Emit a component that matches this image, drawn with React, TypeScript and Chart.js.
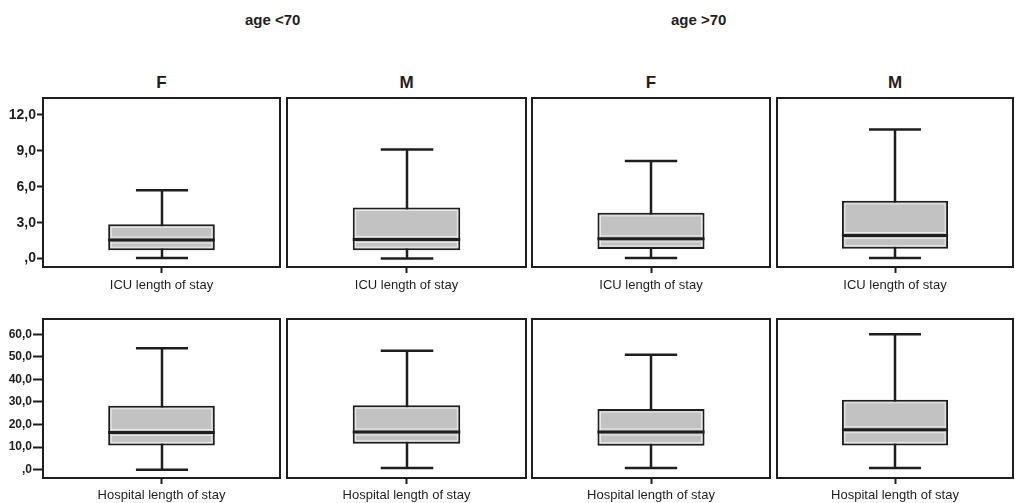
import React, { useEffect, useRef } from "react";
import { Chart, registerables } from "chart.js";

Chart.register(...registerables);

// ---- data ----
const ageGroups = ["age <70", "age >70"];
const sexes = ["F", "M", "F", "M"];
const rowLabels = ["ICU length of stay", "Hospital length of stay"];

const icuMin = [0.05, 0.0, 0.05, 0.05];
const icuQ1 = [0.7, 0.7, 0.8, 0.82];
const icuMedian = [1.55, 1.6, 1.65, 1.93];
const icuQ3 = [2.87, 4.27, 3.82, 4.82];
const icuMax = [5.7, 9.1, 8.15, 10.77];

const hospMin = [0.0, 0.75, 0.75, 0.75];
const hospQ1 = [10.75, 11.5, 10.6, 10.75];
const hospMedian = [16.5, 16.7, 16.7, 17.7];
const hospQ3 = [28.3, 28.6, 26.9, 31.0];
const hospMax = [53.8, 52.7, 50.9, 60.0];

const icuTickValues = [0, 3, 6, 9, 12];
const icuTickLabels = [",0", "3,0", "6,0", "9,0", "12,0"];
const hospTickValues = [0, 10, 20, 30, 40, 50, 60];
const hospTickLabels = [",0", "10,0", "20,0", "30,0", "40,0", "50,0", "60,0"];

const icuRange = [-0.7, 13.4];
const hospRange = [-3.7, 66.8];

// ---- layout ----
const panelLefts = [43, 287, 532, 777];
const panelRights = [280, 526, 770, 1013];
const rowTops = [98, 319];
const rowBottoms = [267, 478];
const rowTickFont = [14, 12];
const rowTickLen = [6, 10];
const rowLabelPad = [5, 4];
const xAxisH = 30;
const FONT = "'Liberation Sans', Arial, sans-serif";
const INK = "#1e1e1e";

type Stats = { min: number; q1: number; med: number; q3: number; max: number };

function makeBoxPlugin(s: Stats) {
  return {
    id: "boxWhisker",
    beforeDatasetsDraw(chart: any) {
      const ctx = chart.ctx;
      const y = chart.scales.y;
      const el = chart.getDatasetMeta(0).data[0];
      const cx = Math.round(el.x);
      const capW = (chart.chartArea.right - chart.chartArea.left) * 0.22;
      const yMin = y.getPixelForValue(s.min);
      const yMax = y.getPixelForValue(s.max);
      ctx.save();
      ctx.strokeStyle = INK;
      ctx.lineWidth = 2.5;
      ctx.beginPath();
      ctx.moveTo(cx, yMin);
      ctx.lineTo(cx, yMax);
      ctx.moveTo(cx - capW / 2, yMin);
      ctx.lineTo(cx + capW / 2, yMin);
      ctx.moveTo(cx - capW / 2, yMax);
      ctx.lineTo(cx + capW / 2, yMax);
      ctx.stroke();
      ctx.restore();
    },
    afterDatasetsDraw(chart: any) {
      const ctx = chart.ctx;
      const y = chart.scales.y;
      const el = chart.getDatasetMeta(0).data[0];
      const half = el.width / 2;
      const cx = el.x;
      const yq1 = y.getPixelForValue(s.q1);
      const yq3 = y.getPixelForValue(s.q3);
      const ym = y.getPixelForValue(s.med);
      ctx.save();
      ctx.strokeStyle = "rgba(240,240,240,0.9)";
      ctx.lineWidth = 1;
      ctx.strokeRect(cx - half + 3, yq3 + 3, el.width - 6, yq1 - yq3 - 6);
      ctx.beginPath();
      ctx.moveTo(cx - half + 3, ym - 3);
      ctx.lineTo(cx + half - 3, ym - 3);
      ctx.moveTo(cx - half + 3, ym + 3);
      ctx.lineTo(cx + half - 3, ym + 3);
      ctx.stroke();
      ctx.strokeStyle = INK;
      ctx.lineWidth = 3;
      ctx.beginPath();
      ctx.moveTo(cx - half, ym);
      ctx.lineTo(cx + half, ym);
      ctx.stroke();
      ctx.restore();
    },
    afterDraw(chart: any) {
      const { left, top, right, bottom } = chart.chartArea;
      const ctx = chart.ctx;
      ctx.save();
      ctx.strokeStyle = INK;
      ctx.lineWidth = 2;
      ctx.strokeRect(left, top, right - left, bottom - top);
      ctx.restore();
    },
  };
}

type PanelProps = {
  col: number;
  row: number;
  stats: Stats;
  range: number[];
  tickValues: number[];
  tickLabels: string[];
};

function BoxPanel({ col, row, stats, range, tickValues, tickLabels }: PanelProps) {
  const ref = useRef<HTMLCanvasElement>(null);
  const L = panelLefts[col];
  const R = panelRights[col];
  const T = rowTops[row];
  const B = rowBottoms[row];
  const showY = col === 0;
  const canvasLeft = showY ? 0 : L - 2;
  const canvasTop = T - 2;
  const width = R + 2 - canvasLeft;
  const height = B - T + 2 + xAxisH;

  useEffect(() => {
    if (!ref.current) return;
    const chart = new Chart(ref.current, {
      type: "bar",
      data: {
        labels: [rowLabels[row]],
        datasets: [
          {
            data: [[stats.q1, stats.q3]] as any,
            backgroundColor: "#c2c2c2",
            borderColor: INK,
            borderWidth: 2,
            borderSkipped: false,
            barPercentage: 0.45,
            categoryPercentage: 1,
          },
        ],
      },
      options: {
        animation: false,
        responsive: false,
        maintainAspectRatio: false,
        layout: { padding: { top: 2, right: 2, left: showY ? 0 : 2, bottom: 0 } },
        plugins: { legend: { display: false }, tooltip: { enabled: false } },
        scales: {
          x: {
            type: "category",
            offset: true,
            border: { display: false },
            grid: {
              offset: false,
              drawOnChartArea: false,
              drawTicks: true,
              tickLength: 6,
              tickColor: INK,
              tickWidth: 2,
            },
            ticks: {
              color: INK,
              padding: rowLabelPad[row],
              font: { family: FONT, size: 13 },
            },
            afterFit(scale: any) {
              scale.height = xAxisH;
              scale.paddingLeft = 0;
              scale.paddingRight = 0;
            },
          },
          y: {
            display: showY,
            min: range[0],
            max: range[1],
            border: { display: false },
            grid: {
              drawOnChartArea: false,
              drawTicks: true,
              tickLength: rowTickLen[row],
              tickColor: INK,
              tickWidth: 2,
            },
            afterBuildTicks(scale: any) {
              scale.ticks = tickValues.map((v) => ({ value: v }));
            },
            ticks: {
              color: INK,
              padding: 1,
              font: { family: FONT, size: rowTickFont[row], weight: "bold" },
              callback: (_v: any, i: number) => tickLabels[i],
            },
            afterFit(scale: any) {
              scale.width = showY ? L : 0;
              scale.paddingTop = 0;
              scale.paddingBottom = 0;
            },
          },
        },
      },
      plugins: [makeBoxPlugin(stats)],
    } as any);
    return () => chart.destroy();
  }, []);

  return (
    <canvas
      ref={ref}
      width={width}
      height={height}
      style={{ position: "absolute", left: canvasLeft, top: canvasTop, width, height }}
    />
  );
}

const textStyle: React.CSSProperties = {
  position: "absolute",
  fontFamily: FONT,
  fontWeight: "bold",
  color: INK,
  whiteSpace: "nowrap",
  lineHeight: 1,
};

export default function App() {
  const panels: React.ReactNode[] = [];
  for (let c = 0; c < 4; c++) {
    panels.push(
      <BoxPanel
        key={"icu" + c}
        col={c}
        row={0}
        stats={{ min: icuMin[c], q1: icuQ1[c], med: icuMedian[c], q3: icuQ3[c], max: icuMax[c] }}
        range={icuRange}
        tickValues={icuTickValues}
        tickLabels={icuTickLabels}
      />
    );
    panels.push(
      <BoxPanel
        key={"hosp" + c}
        col={c}
        row={1}
        stats={{ min: hospMin[c], q1: hospQ1[c], med: hospMedian[c], q3: hospQ3[c], max: hospMax[c] }}
        range={hospRange}
        tickValues={hospTickValues}
        tickLabels={hospTickLabels}
      />
    );
  }
  const groupLefts = [245, 671];
  return (
    <div style={{ position: "absolute", left: 0, top: 0, width: 1015, height: 503, background: "#fff" }}>
      {ageGroups.map((g, i) => (
        <div key={g} style={{ ...textStyle, left: groupLefts[i], top: 12, fontSize: 15 }}>
          {g}
        </div>
      ))}
      {sexes.map((s, i) => (
        <div
          key={"s" + i}
          style={{
            ...textStyle,
            left: (panelLefts[i] + panelRights[i]) / 2 - 20,
            width: 40,
            textAlign: "center",
            top: 74,
            fontSize: 17,
          }}
        >
          {s}
        </div>
      ))}
      {panels}
    </div>
  );
}
